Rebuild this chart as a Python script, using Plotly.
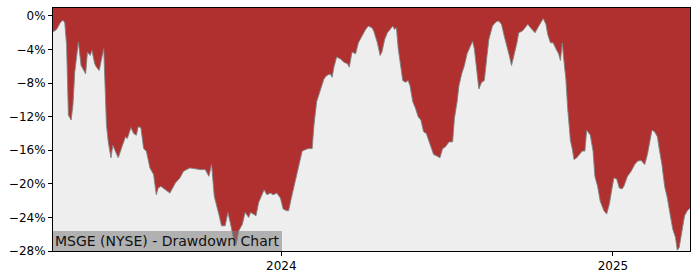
import plotly.graph_objects as go

# Drawdown data (dates, drawdown in %)
dates = [
    "2023-04-24", "2023-04-28", "2023-05-02", "2023-05-05", "2023-05-07", "2023-05-09",
    "2023-05-11", "2023-05-14", "2023-05-16", "2023-05-18", "2023-05-22", "2023-05-25",
    "2023-05-27", "2023-05-30", "2023-06-01", "2023-06-04", "2023-06-06", "2023-06-09",
    "2023-06-11", "2023-06-14", "2023-06-17", "2023-06-19", "2023-06-22", "2023-06-24",
    "2023-06-27", "2023-06-29", "2023-07-01", "2023-07-05", "2023-07-09", "2023-07-13",
    "2023-07-15", "2023-07-19", "2023-07-22", "2023-07-25", "2023-07-27", "2023-07-30",
    "2023-08-02", "2023-08-05", "2023-08-09", "2023-08-13", "2023-08-16", "2023-08-18",
    "2023-08-21", "2023-08-26", "2023-08-31", "2023-09-06", "2023-09-11", "2023-09-15",
    "2023-09-19", "2023-09-22", "2023-09-28", "2023-10-03", "2023-10-09", "2023-10-13",
    "2023-10-16", "2023-10-19", "2023-10-24", "2023-10-27", "2023-10-31", "2023-11-03",
    "2023-11-06", "2023-11-09", "2023-11-12", "2023-11-15", "2023-11-19", "2023-11-22",
    "2023-11-26", "2023-11-28", "2023-12-01", "2023-12-04", "2023-12-07", "2023-12-11",
    "2023-12-13", "2023-12-16", "2023-12-20", "2023-12-23", "2023-12-27", "2023-12-31",
    "2024-01-03", "2024-01-07", "2024-01-09", "2024-01-12", "2024-01-16", "2024-01-20",
    "2024-01-24", "2024-01-28", "2024-01-31", "2024-02-04", "2024-02-06", "2024-02-09",
    "2024-02-11", "2024-02-14", "2024-02-17", "2024-02-20", "2024-02-24", "2024-02-26",
    "2024-02-28", "2024-03-02", "2024-03-06", "2024-03-10", "2024-03-14", "2024-03-16",
    "2024-03-19", "2024-03-23", "2024-03-26", "2024-03-30", "2024-04-03", "2024-04-06",
    "2024-04-10", "2024-04-12", "2024-04-16", "2024-04-19", "2024-04-21", "2024-04-24",
    "2024-04-27", "2024-04-30", "2024-05-03", "2024-05-05", "2024-05-07", "2024-05-09",
    "2024-05-12", "2024-05-14", "2024-05-17", "2024-05-20", "2024-05-22", "2024-05-25",
    "2024-05-28", "2024-05-31", "2024-06-03", "2024-06-06", "2024-06-09", "2024-06-12",
    "2024-06-15", "2024-06-17", "2024-06-21", "2024-06-24", "2024-06-27", "2024-06-30",
    "2024-07-04", "2024-07-08", "2024-07-10", "2024-07-13", "2024-07-15", "2024-07-18",
    "2024-07-21", "2024-07-24", "2024-07-28", "2024-07-30", "2024-08-01", "2024-08-04",
    "2024-08-06", "2024-08-09", "2024-08-12", "2024-08-15", "2024-08-17", "2024-08-21",
    "2024-08-25", "2024-08-28", "2024-08-31", "2024-09-03", "2024-09-07", "2024-09-09",
    "2024-09-11", "2024-09-14", "2024-09-17", "2024-09-19", "2024-09-23", "2024-09-26",
    "2024-09-29", "2024-10-02", "2024-10-07", "2024-10-10", "2024-10-13", "2024-10-16",
    "2024-10-19", "2024-10-21", "2024-10-24", "2024-10-27", "2024-10-30", "2024-11-02",
    "2024-11-04", "2024-11-06", "2024-11-08", "2024-11-10", "2024-11-12", "2024-11-15",
    "2024-11-17", "2024-11-19", "2024-11-22", "2024-11-26", "2024-11-28", "2024-12-01",
    "2024-12-03", "2024-12-07", "2024-12-10", "2024-12-12", "2024-12-15", "2024-12-18",
    "2024-12-22", "2024-12-25", "2024-12-28", "2024-12-31", "2025-01-02", "2025-01-05",
    "2025-01-08", "2025-01-11", "2025-01-13", "2025-01-17", "2025-01-21", "2025-01-25",
    "2025-01-28", "2025-02-01", "2025-02-05", "2025-02-08", "2025-02-10", "2025-02-13",
    "2025-02-16", "2025-02-19", "2025-02-21", "2025-02-24", "2025-02-27", "2025-03-02",
    "2025-03-05", "2025-03-08", "2025-03-11", "2025-03-13", "2025-03-15", "2025-03-18",
    "2025-03-21", "2025-03-24", "2025-03-27",
]

drawdown = [
    -1.9, -1.6, -0.8, -0.5, -0.8, -3.5,
    -11.8, -12.4, -10.6, -6.7, -3.1, -5.9,
    -6.3, -6.9, -4.3, -4.7, -4.1, -5.7,
    -6.1, -6.5, -4.9, -3.9, -13.0, -15.0,
    -16.9, -15.4, -15.9, -16.9, -15.6, -14.4,
    -14.6, -13.3, -14.0, -14.2, -13.2, -13.3,
    -15.8, -16.1, -18.1, -18.9, -21.3, -20.5,
    -20.3, -20.7, -21.1, -19.9, -19.3, -18.5,
    -18.3, -18.1, -18.2, -18.3, -18.3, -19.1,
    -17.7, -21.5, -23.6, -25.0, -25.0, -23.4,
    -24.8, -26.4, -27.3, -25.6, -24.8, -23.4,
    -24.0, -23.4, -23.6, -23.8, -22.2, -21.3,
    -20.7, -21.3, -21.1, -21.3, -21.1, -21.7,
    -23.0, -23.2, -23.2, -21.7, -19.7, -18.1,
    -16.1, -15.9, -15.8, -15.8, -13.0, -10.2,
    -9.5, -8.5, -7.5, -7.1, -6.9, -7.3,
    -6.1, -4.9, -5.1, -5.5, -5.7, -6.1,
    -4.3, -4.5, -3.2, -2.4, -1.6, -1.2,
    -1.4, -1.8, -3.2, -4.7, -4.3, -2.8,
    -2.0, -1.6, -1.2, -1.6, -1.4, -3.9,
    -5.9, -7.7, -7.9, -7.7, -8.3, -10.2,
    -11.0, -12.0, -12.4, -13.8, -14.0, -15.0,
    -16.1, -16.5, -16.7, -16.9, -15.8, -15.6,
    -15.0, -15.0, -12.2, -10.2, -8.3, -6.9,
    -5.9, -4.5, -3.5, -3.0, -3.9, -7.1,
    -8.7, -7.9, -7.7, -4.7, -2.8, -1.2,
    -0.7, -0.6, -1.0, -2.4, -3.9, -4.9,
    -5.9, -4.7, -3.2, -2.0, -1.8, -1.4,
    -1.0, -1.4, -2.0, -1.4, -0.8, -0.3,
    -1.0, -2.2, -3.2, -3.2, -3.9, -4.5,
    -5.3, -3.2, -5.5, -7.5, -11.0, -14.8,
    -15.8, -17.1, -16.9, -16.3, -16.1, -16.1,
    -13.6, -14.2, -16.1, -19.1, -20.3, -22.1,
    -23.2, -23.6, -22.4, -20.5, -19.3, -19.4,
    -20.5, -20.6, -20.3, -19.1, -18.5, -17.7,
    -17.3, -17.2, -17.7, -16.5, -15.4, -13.6,
    -13.8, -14.4, -15.8, -17.7, -20.3, -21.7,
    -23.6, -25.4, -26.4, -27.9, -27.6, -25.6,
    -23.8, -23.2, -22.9,
]

y_tick_vals = [0, -4, -8, -12, -16, -20, -24, -28]
y_tick_text = ["0%", "\u22124%", "\u22128%", "\u221212%", "\u221216%", "\u221220%", "\u221224%", "\u221228%"]
x_tick_vals = ["2024-01-01", "2025-01-01"]
x_tick_text = ["2024", "2025"]
title_text = "MSGE (NYSE) - Drawdown Chart"

Y_RANGE = [-28, 0.95]
RED = "#B03030"
BG = "#EEEEEE"
FONT = "DejaVu Sans"

fig = go.Figure()
# top boundary of the filled region (the top of the plotting range)
fig.add_trace(go.Scatter(
    x=dates, y=[Y_RANGE[1]] * len(dates), mode="lines",
    line=dict(width=0, color=RED), hoverinfo="skip", showlegend=False,
))
fig.add_trace(go.Scatter(
    x=dates, y=drawdown, mode="lines", fill="tonexty", fillcolor=RED,
    line=dict(width=1, color="rgba(130,130,130,0.9)"), showlegend=False,
))

fig.update_layout(
    width=700, height=280,
    margin=dict(l=53, r=10, t=7, b=28),
    paper_bgcolor="white", plot_bgcolor=BG,
    font=dict(family=FONT, size=12, color="black"),
    xaxis=dict(
        range=[dates[0], dates[-1]], type="date",
        tickvals=x_tick_vals, ticktext=x_tick_text,
        ticks="outside", ticklen=4, tickcolor="black", tickwidth=1,
        showline=True, linecolor="black", linewidth=1, mirror=True,
        showgrid=False, zeroline=False,
        tickfont=dict(family=FONT, size=12, color="black"),
    ),
    yaxis=dict(
        range=Y_RANGE,
        tickvals=y_tick_vals, ticktext=y_tick_text,
        ticks="outside", ticklen=4, tickcolor="black", tickwidth=1,
        showline=True, linecolor="black", linewidth=1, mirror=True,
        showgrid=False, zeroline=False,
        tickfont=dict(family=FONT, size=12, color="black"),
    ),
    annotations=[dict(
        text=title_text, xref="paper", yref="paper", x=0, y=0,
        xanchor="left", yanchor="bottom", showarrow=False,
        font=dict(family=FONT, size=14, color="#111111"),
        bgcolor="rgba(128,128,128,0.55)", borderpad=2, borderwidth=0,
    )],
)

fig.write_html("out.html")
